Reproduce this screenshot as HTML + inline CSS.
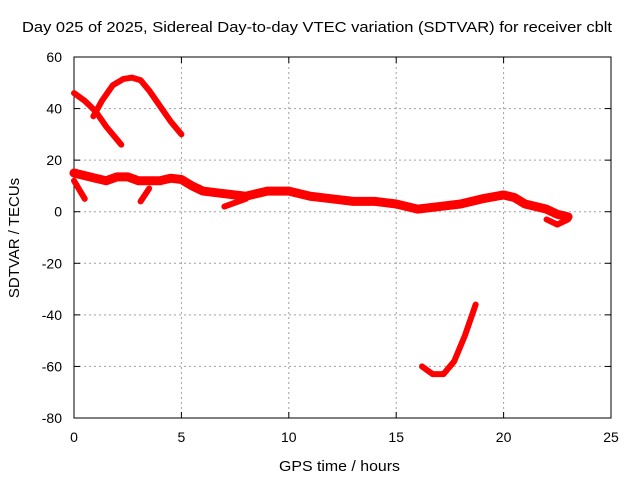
<!DOCTYPE html>
<html><head><meta charset="utf-8"><style>
body{margin:0;background:#fff}
svg{display:block;font-family:"Liberation Sans",sans-serif;font-size:14px}
</style></head><body>
<svg id="c" width="640" height="480"></svg>
<script>
const xTicks=[0,5,10,15,20,25];
const yTicks=[60,40,20,0,-20,-40,-60,-80];
const seriesArcX=[0.9,1.3,1.8,2.3,2.7,3.1,3.5,4,4.5,5];
const seriesArcY=[37,43,49,51.5,52,51,47,41,35,30];
const seriesTopX=[0,0.5,1,1.5,2.2];
const seriesTopY=[46,43,39,33,26];
const seriesMainX=[0,0.5,1,1.5,2,2.5,3,3.5,4,4.5,5,5.5,6,7,8,9,10,11,12,13,14,15,16,17,18,19,20,20.5,21,22,22.5,23];
const seriesMainY=[15,14,13,12,13.5,13.5,12,12,12,13,12.5,10,8,7,6,8,8,6,5,4,4,3,1,2,3,5,6.5,5.5,3,1,-1,-2];
const seriesS1X=[0,0.5];const seriesS1Y=[12,5];
const seriesS2X=[3.1,3.5];const seriesS2Y=[4,9];
const seriesS3X=[7,8];const seriesS3Y=[2,5];
const seriesS4X=[22,22.5,23];const seriesS4Y=[-3,-5,-3];
const seriesBotX=[16.2,16.7,17.2,17.7,18.2,18.7];
const seriesBotY=[-60,-63,-63,-58,-48,-36];
const L=74,R=611,T=57,B=418;
const sx=v=>L+(v-0)/25*(R-L);
const sy=v=>T+(60-v)/140*(B-T);
const svg=document.getElementById('c');
const NS='http://www.w3.org/2000/svg';
function mk(t,a){const e=document.createElementNS(NS,t);for(const k in a)e.setAttribute(k,a[k]);svg.appendChild(e);return e;}
xTicks.forEach(v=>{
 if(v>0&&v<25){const g=mk('line',{x1:sx(v),x2:sx(v),y1:T,y2:B,stroke:'#a0a0a0','stroke-dasharray':'2,3'});
 
 }
 mk('line',{x1:sx(v),x2:sx(v),y1:B,y2:B-6,stroke:'#000'});
 mk('line',{x1:sx(v),x2:sx(v),y1:T,y2:T+6,stroke:'#000'});
 const t=mk('text',{x:sx(v),y:B+24,'text-anchor':'middle'});t.textContent=v;
 
 
});
yTicks.forEach(v=>{
 if(v<60&&v>-80){const g=mk('line',{x1:L,x2:R,y1:sy(v),y2:sy(v),stroke:'#a0a0a0','stroke-dasharray':'2,3'});
 
 }
 mk('line',{x1:L,x2:L+6,y1:sy(v),y2:sy(v),stroke:'#000'});
 mk('line',{x1:R,x2:R-6,y1:sy(v),y2:sy(v),stroke:'#000'});
 const t=mk('text',{x:L-12,y:sy(v)+5,'text-anchor':'end'});t.textContent=v;
 
 
});
const f=mk('rect',{x:L,y:T,width:R-L,height:B-T,fill:'none',stroke:'#000'});


[[seriesArcX,seriesArcY,6],[seriesTopX,seriesTopY,6],[seriesMainX,seriesMainY,9],[seriesS1X,seriesS1Y,6],[seriesS2X,seriesS2Y,6],[seriesS3X,seriesS3Y,6],[seriesS4X,seriesS4Y,6],[seriesBotX,seriesBotY,6]].forEach(([xs,ys,w])=>{
 const p=mk('polyline',{points:xs.map((x,i)=>sx(x)+','+sy(ys[i])).join(' '),fill:'none',stroke:'#f00','stroke-width':w,'stroke-linejoin':'round','stroke-linecap':'round'});
 
 
});
const ti=mk('text',{x:22,y:32,textLength:590,lengthAdjust:'spacingAndGlyphs','font-size':15});ti.textContent='Day 025 of 2025, Sidereal Day-to-day VTEC variation (SDTVAR) for receiver cblt';


const xl=mk('text',{x:279,y:471,textLength:121,lengthAdjust:'spacingAndGlyphs','font-size':15});xl.textContent='GPS time / hours';


const yl=mk('text',{x:0,y:0,'text-anchor':'middle','font-size':15,transform:'translate(19,238) rotate(-90)'});yl.textContent='SDTVAR / TECUs';


</script>
</body></html>
